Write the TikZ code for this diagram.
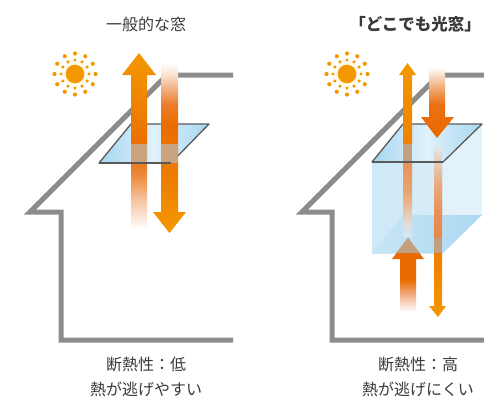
\documentclass[tikz,border=0pt]{standalone}
\usepackage{fontspec}
\newfontfamily\jpfont{Noto Sans CJK JP}
\usetikzlibrary{shapes.geometric,calc}

% palette
\definecolor{housegray}{HTML}{8C8C8C}
\definecolor{txt}{HTML}{3A3A3A}
\definecolor{orgA}{HTML}{F39800}
\definecolor{orgB}{HTML}{EA6C00}
\definecolor{tanL}{HTML}{C9A47F}
\definecolor{tanR}{HTML}{C2A07E}
\definecolor{glassB}{HTML}{A7D6F1}
\definecolor{glassL}{HTML}{E0F1FB}
\definecolor{glassEdge}{HTML}{5A5A5A}
\definecolor{halo}{HTML}{FFF1A6}

% stop colours for the gradients
\definecolor{s1}{HTML}{FDF0E6}
\definecolor{s2}{HTML}{F5C4A0}
\definecolor{s3}{HTML}{EB8A3C}
\definecolor{s4}{HTML}{EF8400}
\definecolor{s5}{HTML}{FBE2D0}
\definecolor{s6}{HTML}{F2AA78}
\definecolor{s7}{HTML}{EC7C28}
\definecolor{s8}{HTML}{EE7E00}
\definecolor{s9}{HTML}{E8925A}
\definecolor{s10}{HTML}{EAA777}
\definecolor{s11}{HTML}{E6D6CC}
\definecolor{s12}{HTML}{D0E8F6}
\definecolor{s13}{HTML}{F8D2B8}
\definecolor{s14}{HTML}{F09A58}
\definecolor{s15}{HTML}{EB7010}
\definecolor{s16}{HTML}{E96800}
\definecolor{s17}{HTML}{E0E6EA}
\definecolor{s18}{HTML}{E6C8B0}
\definecolor{s19}{HTML}{EAA87C}
\definecolor{s20}{HTML}{E4884A}
\definecolor{s21}{HTML}{F0A070}
\definecolor{s22}{HTML}{F8D8C4}

% vertical gradients (bounding box of the path maps onto 25bp..75bp)
\pgfdeclareverticalshading{upLeft}{100bp}{color(0bp)=(white); color(25bp)=(white);
  color(26.7bp)=(s1); color(33bp)=(s2); color(40.1bp)=(s3); color(47.3bp)=(orgB);
  color(61.6bp)=(s4); color(75bp)=(orgA); color(100bp)=(orgA)}
\pgfdeclareverticalshading{downLeft}{100bp}{color(0bp)=(orgA); color(25bp)=(orgA);
  color(40.5bp)=(s8); color(56.6bp)=(orgB); color(62.4bp)=(s7); color(66.8bp)=(s6);
  color(71.2bp)=(s5); color(75bp)=(white); color(100bp)=(white)}
\pgfdeclareverticalshading{upInside}{100bp}{color(0bp)=(s12); color(25bp)=(s12);
  color(36bp)=(s11); color(53.1bp)=(s10); color(75bp)=(s9); color(100bp)=(s9)}
\pgfdeclareverticalshading{downRight}{100bp}{color(0bp)=(s16); color(25bp)=(s16);
  color(48.2bp)=(s15); color(57.4bp)=(s14); color(67.3bp)=(s13); color(75bp)=(white);
  color(100bp)=(white)}
\pgfdeclareverticalshading{downInside}{100bp}{color(0bp)=(s20); color(25bp)=(s20);
  color(40.4bp)=(s9); color(54.1bp)=(s19); color(65.1bp)=(s18); color(75bp)=(s17);
  color(100bp)=(s17)}
\pgfdeclareverticalshading{upBottom}{100bp}{color(0bp)=(white); color(25bp)=(white);
  color(31.1bp)=(s22); color(38.5bp)=(s21); color(46.6bp)=(orgB); color(75bp)=(s16);
  color(100bp)=(s16)}

\tikzset{
  house/.style={draw=housegray, line width=5pt, miter limit=10},
  glass/.style={left color=glassB, right color=glassB, middle color=glassL},
  glassline/.style={draw=glassEdge, line width=1.3pt, line join=round},
  label/.style={text=txt, font=\jpfont\fontsize{16}{18}\selectfont, inner sep=0pt},
  sundot/.style={fill=orgA, draw=none},
}

\newcommand{\sunat}[2]{%
  \shade[inner color=halo, outer color=white] (#1,#2) circle (15);
  \fill[orgA] (#1,#2) circle (9.3);
  \foreach \a in {0,30,...,330}{
    \fill[sundot] ($(#1,#2)+(\a:20.5 and -20.5)$) circle (2.1);
    \fill[sundot] ($(#1,#2)+(\a:14 and -14)$) circle (1.7);
  }%
}

\begin{document}
\begin{tikzpicture}[x=1pt, y=-1pt]
\useasboundingbox (0,0) rectangle (484,397);

% ---------- house outlines ----------
\coordinate (hl1) at (233,75);  \coordinate (hl2) at (167,75);
\coordinate (hl3) at (30,212);  \coordinate (hl4) at (61,212);
\coordinate (hl5) at (61,340);  \coordinate (hl6) at (233,340);
\draw[house] (hl1) -- (hl2) -- (hl3) -- (hl4) -- (hl5) -- (hl6);

\coordinate (hr1) at (486,75);  \coordinate (hr2) at (439,75);
\coordinate (hr3) at (302,212); \coordinate (hr4) at (332,212);
\coordinate (hr5) at (332,340); \coordinate (hr6) at (486,340);
\draw[house] (hr1) -- (hr2) -- (hr3) -- (hr4) -- (hr5) -- (hr6);

% ---------- suns ----------
\sunat{75}{74}
\sunat{347}{74}

% ---------- ordinary window ----------
\coordinate (wTL) at (131,124); \coordinate (wTR) at (209,124);
\coordinate (wBR) at (171,163); \coordinate (wBL) at (99,163);
\path[glass] (wTL) -- (wTR) -- (wBR) -- (wBL) -- cycle;
\draw[glassline] (wTL) -- (wTR) -- (wBR) -- (wBL) -- cycle;

% heat leaving
\shade[shading=upLeft] (131,228) -- (131,75) -- (122,75) -- (139,53) -- (156,75)
  -- (147,75) -- (147,228) -- cycle;
% heat entering
\shade[shading=downLeft] (161,62) -- (161,212) -- (153,212) -- (169.5,233) -- (186,212)
  -- (178,212) -- (178,62) -- cycle;
% arrows seen through the pane
\fill[tanL] (131,144) rectangle (147,163);
\fill[tanL] (161,144) rectangle (178,163);
\draw[glassline] (wBL) -- (wBR);

% ---------- glass box ----------
\coordinate (cTL) at (403,124); \coordinate (cTR) at (482,124);
\coordinate (cBR) at (443,162); \coordinate (cBL) at (372,162);
\coordinate (fBL) at (372,253); \coordinate (fBR) at (443,253);
\coordinate (bTR) at (482,215); \coordinate (bTL) at (403,215);

\path[left color=glassB!55!white, middle color=glassL!40!white, right color=glassB!45!white]
  (cBL) rectangle (fBR);
\fill[glassB!33!white] (cBR) -- (cTR) -- (bTR) -- (fBR) -- cycle;
\path[left color=glassB!62!white, right color=glassB!95!white]
  (fBL) -- (fBR) -- (bTR) -- (bTL) -- cycle;
\path[glass] (cTL) -- (cTR) -- (cBR) -- (cBL) -- cycle;
\draw[glassline] (cTL) -- (cTR) -- (cBR) -- (cBL) -- cycle;

% heat leaving (small)
\shade[top color=orgA, bottom color=s4!90!orgB] (403,144) -- (403,75) -- (399,75)
  -- (407.5,63) -- (416,75) -- (412,75) -- (412,144) -- cycle;
\fill[tanR] (403,144) rectangle (412,163);
\shade[shading=upInside] (403,163) rectangle (412,236);

% sunlight entering
\shade[shading=downRight] (429,67) -- (429,117) -- (421,117) -- (437,138) -- (454,117)
  -- (445,117) -- (445,67) -- cycle;
\shade[shading=downInside] (434,147) rectangle (442,238);
\fill[tanR] (434,238) rectangle (442,253);
\shade[top color=s8, bottom color=orgA] (434,253) -- (434,306) -- (429,306) -- (438,317)
  -- (446,306) -- (442,306) -- (442,253) -- cycle;

% warmth kept inside
\shade[shading=upBottom] (400,312) -- (400,259) -- (392,259) -- (408,238) -- (424,259)
  -- (416,259) -- (416,312) -- cycle;
\fill[tanR] (408,238) -- (396.6,253) -- (419.4,253) -- cycle;

\draw[glassline] (cBL) -- (cBR);

% ---------- texts ----------
\node[label] (tL) at (146,24) {一般的な窓};
\node[label, font=\jpfont\bfseries\fontsize{16.5}{19}\selectfont] (tR) at (415,24) {「どこでも光窓」};
\node[label] (bL1) at (146,364) {断熱性：低};
\node[label] (bL2) at (146,389) {熱が逃げやすい};
\node[label] (bR1) at (418,364) {断熱性：高};
\node[label] (bR2) at (418,389) {熱が逃げにくい};
\end{tikzpicture}
\end{document}
